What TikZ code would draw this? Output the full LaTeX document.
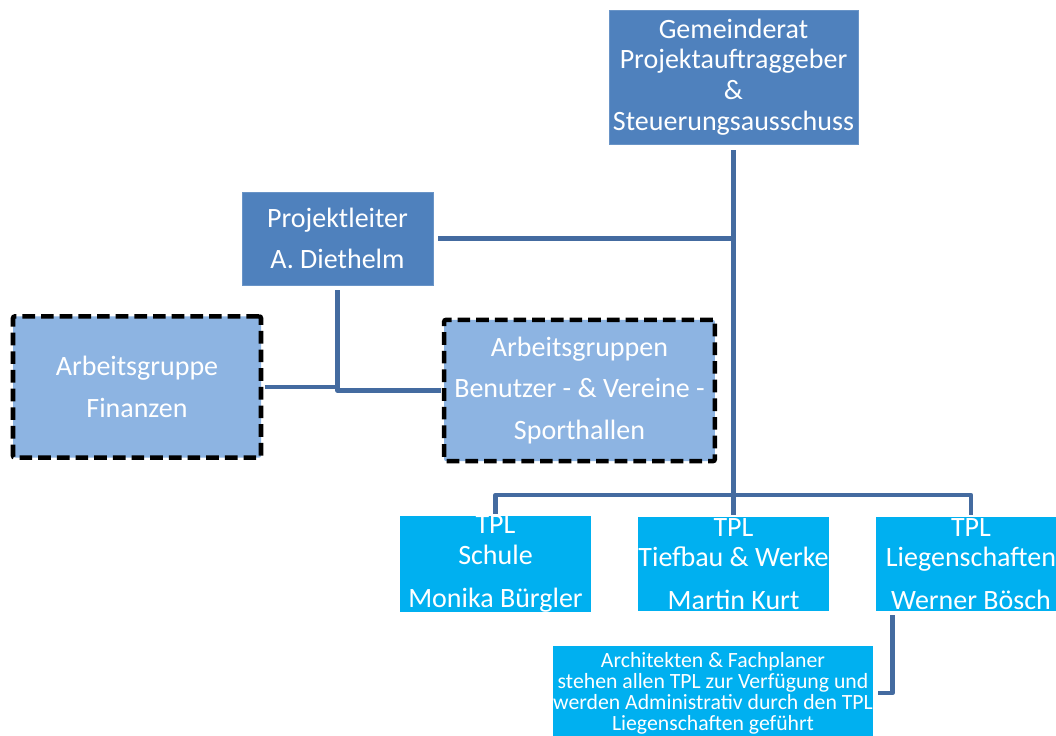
\documentclass[tikz,border=0pt]{standalone}
\usepackage{fontspec}
\setmainfont{Carlito}
\usepackage{tikz}
\usetikzlibrary{positioning,calc}
\usepackage{xcolor}
\definecolor{leadcolor}{RGB}{79, 129, 189}
\definecolor{groupcolor}{RGB}{141, 180, 226}
\definecolor{tplcolor}{RGB}{0, 176, 240}
\definecolor{linecolor}{RGB}{68, 107, 160}

\begin{document}
\begin{tikzpicture}[x=0.75pt, y=-0.75pt,
    lead/.style={rectangle, draw=leadcolor!85!white, line width=0.6pt, fill=leadcolor, text=white, align=center, inner sep=0pt, font=\fontsize{21}{23}\selectfont},
    group/.style={rectangle, draw=black, line width=3.4pt, dash pattern=on 9.5pt off 4.5pt, rounded corners=1.5pt, fill=groupcolor, text=white, align=center, inner sep=0pt, minimum height=106pt, font=\fontsize{21}{23}\selectfont},
    tpl/.style={rectangle, fill=tplcolor, text=white, align=center, inner sep=0pt, minimum width=143.25pt, minimum height=70.5pt, font=\fontsize{21}{23}\selectfont},
    conn/.style={draw=linecolor, line width=3.6pt, line join=round},
]
    \clip (0,0) rectangle (1056,735);

    % Leitung
    \node[lead, minimum width=186.75pt, minimum height=100.5pt] (rat) at (733.5,77) {Gemeinderat\\Projektauftraggeber\\\&\\Steuerungsausschuss};
    \node[lead, minimum width=143.25pt, minimum height=69.75pt] (pl) at (337.5,238.5) {Projektleiter\\[8pt]A. Diethelm};

    % Arbeitsgruppen
    \node[group, minimum width=186pt] (fin) at (137,387) {Arbeitsgruppe\\[8pt]Finanzen};
    \node[group, minimum width=203pt] (ag) at (579.5,390.5) {Arbeitsgruppen\\[8pt]Benutzer - \& Vereine -\\[8pt]Sporthallen};

    % Teilprojektleiter
    \node[tpl] (schule) at (495.5,564) {TPL\\Schule\\[9pt]Monika Bürgler};
    \node[tpl] (tiefbau) at (733.5,564) {TPL\\Tiefbau \& Werke\\[9pt]Martin Kurt};
    \node[tpl] (liegen) at (971,564) {TPL\\Liegenschaften\\[9pt]Werner Bösch};

    % Fachplaner
    \node[tpl, minimum width=237pt, font=\fontsize{16.3}{15.75}\selectfont] (planer) at (713,693) {Architekten \& Fachplaner\\stehen allen TPL zur Verfügung und\\werden Administrativ durch den TPL\\Liegenschaften geführt};

    % Linien
    \coordinate (bar) at (733.5,495);
    \draw[conn, shorten <=4.5pt, shorten >=1.5pt] (rat.south) -- (tiefbau.north);
    \draw[conn, shorten <=1.5pt, shorten >=1.5pt] (schule.north) |- (bar) -| (liegen.north);
    \draw[conn, shorten <=3.5pt] (pl.east) -- (pl.east -| rat.south);
    \draw[conn, shorten <=3.5pt, shorten >=1pt] (pl.south) |- (ag.west);
    \draw[conn, shorten <=1pt] (fin.east) -- (fin.east -| pl.south);
    \draw[conn, shorten <=3pt, shorten >=4pt] ($(liegen.south west)+(17,0)$) |- (planer.east);
\end{tikzpicture}
\end{document}
